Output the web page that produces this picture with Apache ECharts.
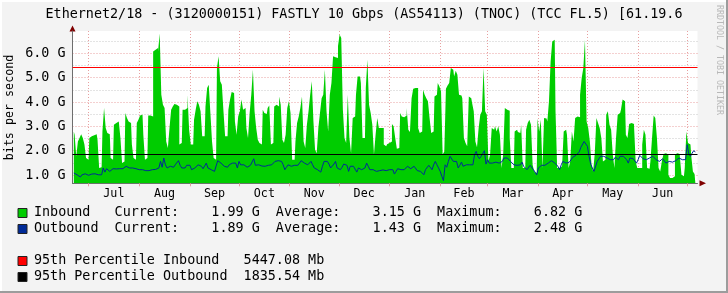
<!DOCTYPE html>
<html><head><meta charset="utf-8">
<script src="https://cdn.jsdelivr.net/npm/echarts@6/dist/echarts.min.js"></script>
<style>html,body{margin:0;padding:0;background:#F3F3F3}#c{width:728px;height:293px}</style>
</head><body><div id="c"></div>
<script>
// ---- data (values in G bits/s, one per day; day 0 = Jul 1) ----
const startDay = -9;
const inbound = [
2.79,2.66,1.77,2.38,2.52,2.68,2.52,2.25,1.70,1.63,
2.52,2.59,2.63,2.66,2.68,2.45,1.29,1.32,2.79,3.75,
2.93,2.73,2.68,1.70,1.63,3.07,3.14,3.20,3.20,2.52,
1.49,1.56,3.55,3.34,3.20,3.14,2.25,1.70,1.63,3.14,
3.27,3.45,3.48,2.66,1.63,1.70,3.45,3.45,3.41,6.08,
6.15,6.22,6.08,6.82,4.30,3.89,3.75,2.38,2.11,2.93,
3.68,3.82,3.92,3.89,
3.82,2.25,2.32,3.68,3.68,3.75,4.30,2.86,2.25,2.25,
3.27,3.68,4.03,3.89,3.62,2.59,2.59,3.82,4.58,4.71,
3.55,2.38,1.70,1.63,5.40,5.88,4.85,4.71,3.62,2.59,
2.59,3.68,4.10,4.41,4.37,3.20,2.66,3.41,3.62,4.10,
3.68,3.75,2.93,2.52,3.55,4.30,5.33,3.62,2.93,2.45,
2.32,2.25,3.68,3.55,3.51,3.75,3.86,2.25,2.32,3.82,
3.89,3.82,4.23,3.89,
2.45,2.32,2.66,3.75,4.03,3.55,1.63,1.63,2.38,3.14,
3.41,3.75,4.23,2.38,2.11,3.07,3.62,4.30,4.85,3.20,
2.04,1.90,2.93,3.55,4.16,4.30,5.33,3.62,2.79,4.30,
4.78,5.88,5.84,5.81,6.29,6.78,6.63,3.68,2.52,2.32,
4.30,2.52,1.90,3.34,3.41,4.30,5.05,5.05,4.78,2.52,
2.52,4.58,5.74,3.89,3.55,3.07,1.84,2.66,3.34,2.93,
2.93,2.93,2.25,2.18,
2.27,2.32,2.38,3.10,3.00,2.52,2.08,2.11,3.55,3.41,
3.37,3.45,3.75,2.86,2.77,4.16,4.55,4.58,4.58,2.93,
2.73,2.79,4.51,4.30,4.16,4.03,3.34,2.73,2.79,4.23,
4.30,4.78,4.64,4.44,1.84,1.97,4.55,4.68,4.78,5.40,
5.33,5.05,5.29,5.12,4.30,4.27,4.16,2.52,2.32,2.18,
4.23,4.16,3.96,3.62,2.38,2.14,2.93,3.48,3.62,5.40,
3.62,3.48,1.56,1.84,
2.93,2.86,3.00,2.79,3.00,2.66,1.29,1.84,3.75,3.68,
3.64,2.52,1.29,1.29,2.79,2.86,2.77,2.73,3.07,1.29,
1.29,2.86,3.14,3.27,3.07,1.42,1.12,1.08,3.32,2.79,
3.27,1.29,3.34,3.32,3.20,4.03,5.67,6.49,6.56,3.62,
1.29,1.29,1.36,1.29,2.79,2.86,2.66,1.29,1.56,2.79,
2.38,3.34,3.41,3.37,4.30,4.99,5.40,6.56,3.20,2.93,
2.38,1.42,1.15,1.90,
3.34,3.14,2.93,2.52,1.56,1.63,3.48,3.62,3.07,2.86,
1.84,1.29,2.52,3.48,3.55,3.68,4.10,4.03,2.66,2.52,
3.10,3.14,3.10,3.00,1.56,1.29,1.29,1.29,2.25,2.86,
2.66,1.29,1.26,1.56,2.52,3.45,3.34,2.52,1.29,1.15,
1.56,1.86,1.90,1.84,1.01,0.88,0.88,0.95,1.84,1.90,
1.86,1.77,1.01,0.95,1.29,2.79,2.32,2.25,1.77,1.15,1.04
];
const outbound = [
1.08,1.04,1.01,0.95,0.92,1.01,1.04,1.05,1.01,0.99,
1.01,1.04,1.01,1.05,1.04,1.01,0.97,1.01,1.29,1.12,
1.26,1.22,1.15,1.18,1.26,1.22,1.25,1.22,1.26,1.29,
1.26,1.29,1.36,1.32,1.29,1.32,1.29,1.32,1.26,1.29,
1.22,1.19,1.22,1.15,1.18,1.22,1.18,1.22,1.22,1.21,
1.23,1.22,1.29,1.56,1.32,1.70,1.42,1.29,1.32,1.36,
1.40,1.32,1.42,1.45,
1.59,1.40,1.29,1.32,1.29,1.40,1.45,1.40,1.22,1.22,
1.29,1.36,1.42,1.45,1.36,1.26,1.32,1.49,1.29,1.36,
1.22,1.18,1.15,1.08,1.59,1.56,1.49,1.45,1.36,1.29,
1.32,1.42,1.42,1.49,1.42,1.49,1.29,1.56,1.42,1.40,
1.42,1.40,1.32,1.36,1.40,1.42,1.67,1.40,1.36,1.42,
1.40,1.37,1.40,1.36,1.42,1.40,1.48,1.42,1.49,1.56,
1.53,1.59,1.59,1.56,
1.42,1.22,1.32,1.42,1.40,1.36,1.38,1.40,1.36,1.40,
1.49,1.59,1.56,1.49,1.56,1.42,1.40,1.56,1.42,1.29,
1.26,1.22,1.15,1.12,1.36,1.56,1.59,1.56,1.45,1.29,
1.36,1.45,1.56,1.29,1.26,1.22,1.32,1.45,1.42,1.40,
1.15,1.36,1.42,1.36,1.29,1.12,1.29,1.32,1.22,1.18,
1.29,1.49,1.36,1.22,1.18,1.22,1.18,1.15,1.18,1.18,
1.22,1.21,1.18,1.18,
1.18,1.22,1.29,1.22,1.04,1.15,1.26,1.26,1.22,1.18,
1.22,1.26,1.36,1.29,1.26,1.32,1.36,1.29,1.18,1.18,
1.15,1.18,1.01,1.22,1.29,1.40,1.32,1.22,1.42,1.56,
1.42,1.29,1.15,0.95,0.77,1.42,1.32,1.56,1.77,1.77,
1.56,1.59,1.56,1.29,1.40,1.53,1.36,1.29,1.42,1.36,
1.42,1.49,1.42,1.84,1.97,1.77,1.67,1.77,1.84,2.00,
1.45,1.63,1.49,1.49,
1.49,1.42,1.53,1.59,1.49,1.53,1.56,1.70,1.77,1.70,
1.73,1.56,1.49,1.42,1.42,1.40,1.42,1.42,1.53,1.36,
1.29,1.22,1.29,1.40,1.36,1.22,1.12,1.01,1.29,1.36,
1.40,1.42,1.40,1.42,1.49,1.56,1.59,1.56,1.49,1.42,
1.36,1.22,1.42,1.56,1.63,1.49,1.56,1.53,1.59,1.73,
1.77,1.81,1.86,1.95,2.14,2.22,2.38,2.45,2.18,1.77,
1.45,1.29,1.15,1.08,
1.56,1.63,1.77,1.70,1.77,1.81,1.70,1.67,1.63,1.59,
1.63,1.73,1.67,1.63,1.77,1.84,1.77,1.73,1.63,1.49,
1.70,1.77,1.67,1.63,1.49,1.63,1.81,1.73,1.67,1.63,
1.63,1.67,1.70,1.73,1.77,1.73,1.63,1.59,1.56,1.59,
1.67,1.59,1.49,1.53,1.56,1.62,1.53,1.49,1.59,1.63,
1.70,1.67,1.63,1.59,1.63,2.25,1.86,1.77,1.90,2.00,1.95
];
const p95In = 5.44708;
const p95Out = 1.83554;
const monthStarts = [0,31,62,92,123,153,184,215,244,275,305,336,366];
const monthLabelDays = [15.5,46.5,77,107.5,138,168.5,199.5,229.5,259.5,290,320.5,351];
const monthNames = ['Jul','Aug','Sep','Oct','Nov','Dec','Jan','Feb','Mar','Apr','May','Jun'];
const yLabelValues = [1,2,3,4,5,6];
const yMinorValues = [1.5,2.5,3.5,4.5,5.5,6.5];
const titleText = 'Ethernet2/18 - (3120000151) FASTLY 10 Gbps (AS54113) (TNOC) (TCC FL.5) [61.19.6';
const legendRows = [
  {color:'#00CC00', text:'Inbound   Current:    1.99 G  Average:    3.15 G  Maximum:    6.82 G'},
  {color:'#002A97', text:'Outbound  Current:    1.89 G  Average:    1.43 G  Maximum:    2.48 G'},
  {color:'#FF0000', text:'95th Percentile Inbound   5447.08 Mb'},
  {color:'#000000', text:'95th Percentile Outbound  1835.54 Mb'}
];

// ---- chart ----
const MONO = '"DejaVu Sans Mono", monospace';
const inData = inbound.map((v,i)=>[startDay+i, v]);
const outData = outbound.map((v,i)=>[startDay+i, v]);
const chart = echarts.init(document.getElementById('c'), null, {renderer:'canvas'});
const legendY = [213, 229, 261, 277];
const graphics = [
  {type:'rect', shape:{x:0,y:0,width:728,height:2}, style:{fill:'#FFFFFF'}, silent:true},
  {type:'rect', shape:{x:0,y:0,width:2,height:293}, style:{fill:'#FFFFFF'}, silent:true},
  {type:'rect', shape:{x:0,y:291,width:728,height:2}, style:{fill:'#9C9C9C'}, silent:true},
  {type:'rect', shape:{x:726,y:0,width:2,height:293}, style:{fill:'#9C9C9C'}, silent:true},
  {type:'text', x:364, y:14.5, style:{text:titleText, font:'13.4px '+MONO, fill:'#000', align:'center', verticalAlign:'middle'}},
  {type:'text', x:10, y:107.5, rotation:Math.PI/2, style:{text:'bits per second', font:'11.7px '+MONO, fill:'#000', align:'center', verticalAlign:'middle'}},
  {type:'text', x:719.5, y:60, rotation:-Math.PI/2, style:{text:'RRDTOOL / TOBI OETIKER', font:'8.3px '+MONO, fill:'#B8B8B8', align:'center', verticalAlign:'middle'}},
  {type:'polygon', shape:{points:[[72.5,25.5],[69.5,31.5],[75.5,31.5]]}, style:{fill:'#7F0000'}},
  {type:'polygon', shape:{points:[[706,183.3],[699.5,180.3],[699.5,186.3]]}, style:{fill:'#7F0000'}}
];
legendRows.forEach((r,i)=>{
  graphics.push({type:'rect', shape:{x:18, y:legendY[i]-4.5, width:9, height:9}, style:{fill:r.color, stroke:'#222', lineWidth:1}});
  graphics.push({type:'text', x:34, y:legendY[i], style:{text:r.text, font:'13.4px '+MONO, fill:'#000', align:'left', verticalAlign:'middle'}});
});

chart.setOption({
  animation:false,
  backgroundColor:'#F3F3F3',
  grid:{left:72.5, right:30.5, top:31, bottom:109.7, show:true, backgroundColor:'#FFFFFF', borderWidth:0},
  xAxis:{
    type:'value', min:-9.8, max:372.3,
    axisLine:{show:true, onZero:false, lineStyle:{color:'#6E6E6E', width:1}},
    axisTick:{show:true, length:3, customValues:monthStarts, lineStyle:{color:'#E0A0A0'}},
    splitLine:{show:true, lineStyle:{color:'#E8A0A0', type:[1,2], width:1}},
    axisLabel:{customValues:monthLabelDays, margin:5, color:'#000', fontFamily:MONO, fontSize:11.7,
      formatter:(v)=>{const k=monthLabelDays.indexOf(v); return k>=0?monthNames[k]:'';}}
  },
  yAxis:[{
    type:'value', min:0.66, max:6.92, position:'left',
    axisLine:{show:true, onZero:false, lineStyle:{color:'#6E6E6E', width:1}},
    axisTick:{show:false, customValues:yLabelValues},
    splitLine:{show:true, lineStyle:{color:'#E8A0A0', type:[1,2], width:1}},
    axisLabel:{customValues:yLabelValues, margin:7, color:'#000', fontFamily:MONO, fontSize:13.4,
      formatter:(v)=>v.toFixed(1)+' G'}
  },{
    type:'value', min:0.66, max:6.92, position:'left',
    axisLine:{show:false, onZero:false}, axisLabel:{show:false},
    axisTick:{show:false, customValues:yMinorValues},
    splitLine:{show:true, lineStyle:{color:'#C8C8C8', type:[1,2], width:1}}
  }],
  series:[
    {type:'line', name:'Inbound', data:inData, step:'middle', symbol:'none', z:2,
     lineStyle:{width:0, color:'#00CC00'}, areaStyle:{color:'#00CC00', opacity:1, origin:'start'}},
    {type:'line', name:'Outbound', data:outData, symbol:'none', z:3,
     lineStyle:{width:1, color:'#002A97'},
     markLine:{silent:true, symbol:['none','none'], label:{show:false},
       data:[{yAxis:p95In, lineStyle:{color:'#FF0000', width:1, type:'solid'}},
             {yAxis:p95Out, lineStyle:{color:'#000000', width:1, type:'solid'}}]}}
  ],
  graphic:graphics
});
</script></body></html>
